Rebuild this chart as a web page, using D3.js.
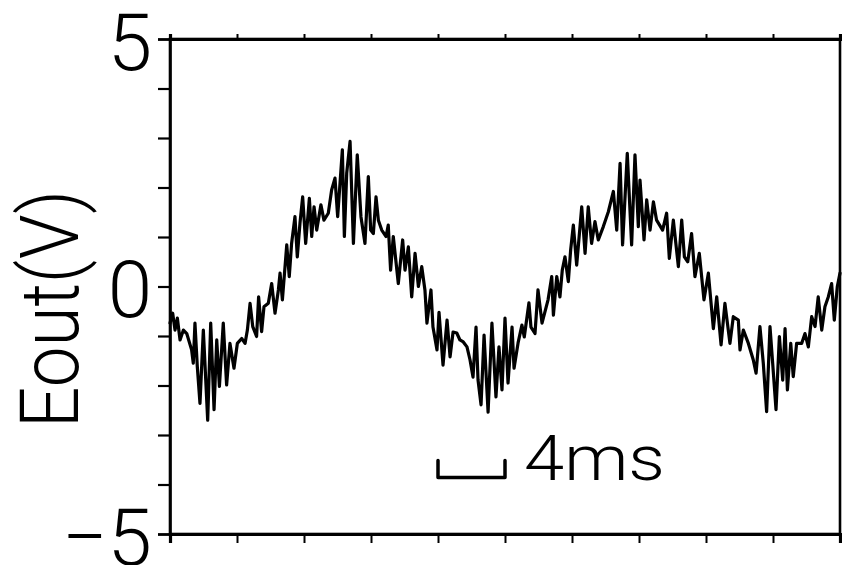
<!DOCTYPE html>
<html>
<head>
<meta charset="utf-8">
<script src="https://cdn.jsdelivr.net/npm/d3@7"></script>
<style>
  html, body { margin: 0; padding: 0; background: #fff; }
  svg { display: block; }
  .lbl { font-family: Roboto, "Liberation Sans", sans-serif; font-weight: 300; fill: #000; }
</style>
</head>
<body>
<svg id="chart" width="842" height="565"></svg>
<script>
// Output voltage trace: time (ms) and Eout (V)
const timeMs = [
  0.00, 0.16, 0.30, 0.44, 0.60, 0.80, 1.00, 1.29, 1.39, 1.49, 1.63, 1.79, 1.99, 2.25, 2.43, 2.63,
  2.79, 2.95, 3.18, 3.38, 3.58, 3.82, 4.02, 4.28, 4.48, 4.62, 4.78, 4.94, 5.17, 5.29, 5.47, 5.61,
  5.87, 6.07, 6.27, 6.47, 6.57, 6.71, 6.97, 7.12, 7.26, 7.46, 7.60, 7.76, 7.92, 8.10, 8.32, 8.46,
  8.60, 8.76, 9.01, 9.19, 9.45, 9.65, 9.85, 10.01, 10.29, 10.41, 10.55, 10.75, 10.95, 11.18, 11.40, 11.64,
  11.84, 11.98, 12.14, 12.30, 12.44, 12.64, 12.90, 13.03, 13.17, 13.33, 13.63, 13.89, 14.03, 14.23, 14.43, 14.63,
  14.83, 15.03, 15.22, 15.34, 15.58, 15.70, 15.94, 16.06, 16.30, 16.54, 16.72, 16.90, 17.12, 17.31, 17.51, 17.73,
  17.91, 18.09, 18.27, 18.39, 18.57, 18.75, 18.99, 19.22, 19.46, 19.64, 19.82, 20.00, 20.18, 20.42, 20.54, 20.78,
  21.01, 21.15, 21.43, 21.55, 21.79, 21.97, 22.21, 22.57, 22.79, 22.89,
  23.09, 23.28, 23.42, 23.58, 23.78, 23.92, 24.08, 24.28, 24.58, 24.78, 24.97, 25.17, 25.37, 25.57, 25.87, 26.17,
  26.47, 26.67, 26.87, 27.02, 27.30, 27.56, 27.76, 27.96, 28.06, 28.30, 28.46, 28.66, 28.86, 29.05, 29.41, 29.65,
  29.81, 30.05, 30.35, 30.55, 30.71, 30.91, 31.14, 31.34, 31.60, 31.88, 32.14, 32.44, 32.64, 32.90, 33.13, 33.43,
  33.63, 33.93, 34.03, 34.23, 34.53, 34.82, 34.99, 35.22, 35.42, 35.62, 35.82, 35.98, 36.18, 36.38, 36.58, 36.72,
  36.86, 37.06, 37.21, 37.41, 37.71, 37.91, 38.11, 38.31, 38.51, 38.70, 38.91, 39.10, 39.30, 39.50, 39.66, 39.84,
  40.00
];
const eout = [
  -0.74, -0.54, -0.88, -0.64, -1.08, -0.88, -0.95, -1.28, -1.55, -0.74, -1.62, -2.36, -0.88, -2.70, -0.74, -2.49,
  -1.08, -2.02, -0.74, -1.99, -1.15, -1.65, -1.15, -1.05, -1.15, -0.88, -0.34, -0.81, -1.01, -0.21, -0.91, -0.41,
  -0.34, 0.06, -0.54, -0.07, 0.27, -0.27, 0.84, 0.20, 0.87, 1.41, 0.60, 1.28, 1.81, 0.87, 1.78, 1.01,
  1.61, 1.14, 1.65, 1.34, 1.48, 1.95, 2.19, 1.41, 2.76, 1.01, 2.29, 2.93, 0.87, 2.66, 1.41, 0.87,
  2.22, 1.14, 1.07, 1.81, 1.34, 1.14, 1.01, 1.24, 0.33, 1.01, 0.06, 0.94, 0.33, 0.80, -0.21, 0.67,
  0.00, 0.40, -0.07, -0.74, -0.07, -0.82, -1.28, -0.52, -1.59, -0.68, -1.42, -0.92, -0.94, -1.08, -1.12, -1.22,
  -1.48, -1.83, -0.82, -1.89, -2.39, -0.98, -2.54, -0.74, -2.23, -1.22, -2.09, -0.64, -1.95, -0.82, -1.65, -1.14,
  -0.78, -1.02, -0.33, -0.82, -0.95, -0.07, -0.74, -0.27, 0.20, -0.58,
  0.20, -0.21, 0.33, 0.60, 0.10, 0.74, 1.24, 0.43, 1.61, 0.67, 1.61, 0.87, 1.31, 0.94, 1.21, 1.51,
  1.92, 1.14, 2.49, 0.84, 2.69, 0.84, 2.66, 1.21, 2.15, 0.94, 1.75, 1.14, 1.71, 1.34, 1.14, 1.48,
  0.57, 1.34, 0.40, 1.34, 0.60, 0.50, 1.07, 0.20, 0.67, -0.27, 0.27, -0.85, -0.21, -1.18, -0.34, -1.15,
  -0.61, -0.68, -1.28, -0.88, -1.15, -1.48, -1.75, -0.81, -1.55, -2.53, -0.81, -1.55, -2.49, -1.01, -1.89, -0.85,
  -2.09, -1.15, -1.82, -1.15, -1.15, -0.95, -1.22, -0.61, -0.81, -0.21, -0.88, -0.41, -0.21, 0.06, -0.68, 0.00,
  0.27
];

// Axis ticks and labels
const xTicks = [0, 4, 8, 12, 16, 20, 24, 28, 32, 36, 40];
const yTicks = [-5, -4, -3, -2, -1, 0, 1, 2, 3, 4, 5];
const yLabels = [5, 0, -5];
const yTitle = "Eout(V)";
const scaleBarMs = [16, 20];
const scaleBarText = "4ms";

const svg = d3.select("#chart");
const plotL = 170, plotR = 840, plotT = 39, plotB = 534;

const x = d3.scaleLinear().domain([0, 40]).range([plotL, plotR]);
const y = d3.scaleLinear().domain([-5, 5]).range([plotB, plotT]);

// Plot frame
svg.append("rect")
  .attr("x", plotL).attr("y", plotT)
  .attr("width", plotR - plotL).attr("height", plotB - plotT)
  .attr("fill", "none").attr("stroke", "#000").attr("stroke-width", 2.6);

// Top and bottom tick marks (outward)
const topAxis = svg.append("g").attr("transform", `translate(0,${plotT})`)
  .call(d3.axisTop(x).tickValues(xTicks).tickSize(5).tickFormat(""));
const botAxis = svg.append("g").attr("transform", `translate(0,${plotB})`)
  .call(d3.axisBottom(x).tickValues(xTicks).tickSize(9).tickFormat(""));
[topAxis, botAxis].forEach(g => {
  g.select(".domain").attr("stroke", "#000").attr("stroke-width", 3.2);
  g.selectAll(".tick line").attr("stroke", "#000").attr("stroke-width", 2);
});

// Left axis: ticks every volt, large labels at 5, 0, -5
const fmt = v => (v < 0 ? "\u2212" : "") + Math.abs(v);
const leftAxis = svg.append("g").attr("transform", `translate(${plotL},0)`)
  .call(d3.axisLeft(y).tickValues(yTicks).tickSize(12).tickPadding(6)
    .tickFormat(v => yLabels.includes(v) ? fmt(v) : ""));
leftAxis.select(".domain").attr("stroke", "#000").attr("stroke-width", 2.6);
leftAxis.selectAll(".tick line").attr("stroke", "#000").attr("stroke-width", 2.2);
leftAxis.selectAll(".tick text")
  .attr("class", "lbl")
  .attr("font-size", 80)
  .attr("dy", "0.38em")
  .attr("fill", "#000");

// Y axis title
svg.append("text")
  .attr("class", "lbl")
  .attr("transform", "translate(78,309) rotate(-90)")
  .attr("text-anchor", "middle")
  .attr("font-size", 82)
  .attr("textLength", 238)
  .attr("lengthAdjust", "spacingAndGlyphs")
  .text(yTitle);

// Signal trace
const line = d3.line()
  .x((d, i) => x(timeMs[i]))
  .y(d => y(d));
svg.append("path")
  .datum(eout)
  .attr("d", line)
  .attr("fill", "none")
  .attr("stroke", "#000")
  .attr("stroke-width", 3.2)
  .attr("stroke-linejoin", "round")
  .attr("stroke-linecap", "round");

// Time scale bar
const barY = y(-3.86), barH = 17;
svg.append("path")
  .attr("d", `M${x(scaleBarMs[0])},${barY - barH} V${barY} H${x(scaleBarMs[1])} V${barY - barH}`)
  .attr("fill", "none").attr("stroke", "#000").attr("stroke-width", 3.5)
  .attr("stroke-linecap", "round").attr("stroke-linejoin", "round");
svg.append("text")
  .attr("class", "lbl")
  .attr("x", 524).attr("y", 480)
  .attr("font-size", 63)
  .attr("textLength", 141)
  .attr("lengthAdjust", "spacingAndGlyphs")
  .text(scaleBarText);
</script>
</body>
</html>
